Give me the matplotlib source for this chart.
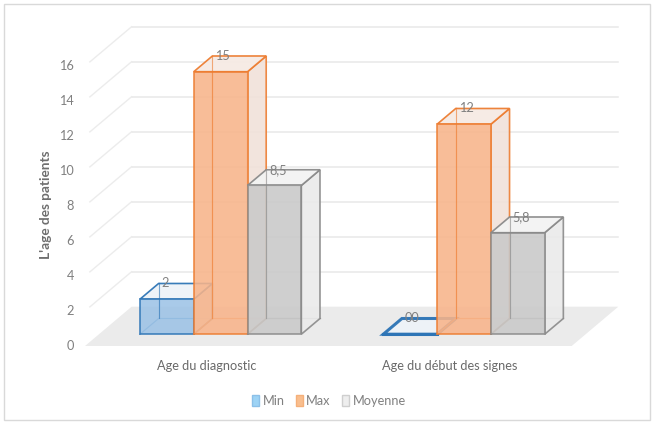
import matplotlib
matplotlib.use("Agg")
import matplotlib.pyplot as plt
from matplotlib.patches import Polygon, Rectangle, Patch

plt.rcParams['font.family'] = ['Lato', 'DejaVu Sans']

# ---------------- data ----------------
categories = ["Age du diagnostic", "Age du début des signes"]
series_names = ["Min", "Max", "Moyenne"]
values = {
    "Min": [2, 0],
    "Max": [15, 12],
    "Moyenne": [8.5, 5.8],
}
data_labels = {
    "Min": ["2", "00"],
    "Max": ["15", "12"],
    "Moyenne": ["8,5", "5,8"],
}
yticks = [0, 2, 4, 6, 8, 10, 12, 14, 16]
ytitle = "L'age des patients"

# ---------------- style / layout ----------------
front_col = {"Min": "#9DC3E6", "Max": "#F8B48A", "Moyenne": "#C9C9C9"}
edge_col = {"Min": "#2E75B6", "Max": "#ED7D31", "Moyenne": "#8A8A8A"}
side_col = {"Min": "#DCE8F3", "Max": "#F1E1DA", "Moyenne": "#EAEAEA"}
top_col = {"Min": "#EEF3F8", "Max": "#F6EAE4", "Moyenne": "#F3F3F3"}
legend_col = {"Min": "#9DD3F5", "Max": "#F9BE8E", "Moyenne": "#EEEEEE"}
legend_edge = {"Min": "#8CC0E8", "Max": "#F5B07A", "Moyenne": "#CFCFCF"}

W, H = 655, 423
PX_X = 243.35          # pixels per category unit
PX_Y = 17.5            # pixels per value unit
X0_PX, Y0_PX = 85, 346  # front-left floor corner (pixels)
DX = 46.6 / PX_X       # full depth offset (data units)
DY = 39.3 / PX_Y
BAR_W = 53.8 / PX_X
FRONT_D, BAR_D = 0.30, 0.40   # bar depth placement (fraction of depth)
TXT = "#808080"
FS = 9.2

fig = plt.figure(figsize=(W / 100, H / 100), dpi=100)
ax = fig.add_axes([0, 0, 1, 1])
ax.set_xlim(-0.5 - X0_PX / PX_X, -0.5 + (W - X0_PX) / PX_X)
ax.set_ylim(-(H - Y0_PX) / PX_Y, Y0_PX / PX_Y)
ax.axis("off")

ncat = len(categories)
xl, xr = -0.5, ncat - 0.5

# back wall and side gridlines
for v in yticks[1:]:
    ax.plot([xl + DX, xr + DX], [v + DY, v + DY], color="#E8E8E8", lw=1.1, zorder=1)
    ax.plot([xl + 0.02, xl + DX], [v + 0.02 * DY / DX, v + DY], color="#ECECEC", lw=1.0, zorder=1)

# floor
ax.add_patch(Polygon([(xl, 0), (xr, 0), (xr + DX, DY), (xl + DX, DY)],
                     closed=True, facecolor="#EBEBEB", edgecolor="none", zorder=2))

# bars
group_off = (1 - len(series_names) * BAR_W) / 2
dx, dy = BAR_D * DX, BAR_D * DY
z = 3
for i in range(ncat):
    for j, s in enumerate(series_names):
        v = values[s][i]
        x0 = i - 0.5 + group_off + j * BAR_W + FRONT_D * DX
        b = FRONT_D * DY
        x1 = x0 + BAR_W
        ec = edge_col[s]
        lw = 1.2 if v > 0 else 2.2
        # back edges (seen through)
        ax.plot([x0 + dx, x0 + dx, x1 + dx], [b + dy + v, b + dy, b + dy], color=ec, lw=0.9, alpha=0.8, zorder=z)
        ax.plot([x0, x0 + dx], [b, b + dy], color=ec, lw=0.9, alpha=0.8, zorder=z)
        # side face
        ax.add_patch(Polygon([(x1, b), (x1, b + v), (x1 + dx, b + v + dy), (x1 + dx, b + dy)],
                             closed=True, facecolor=side_col[s], edgecolor=ec, lw=lw,
                             alpha=0.9, zorder=z + 1))
        # top face
        ax.add_patch(Polygon([(x0, b + v), (x1, b + v), (x1 + dx, b + v + dy), (x0 + dx, b + v + dy)],
                             closed=True, facecolor=top_col[s], edgecolor=ec, lw=lw,
                             alpha=0.95, zorder=z + 1))
        # front face
        if v > 0:
            ax.bar(x0, v, width=BAR_W, bottom=b, align="edge", color=front_col[s],
                   edgecolor=ec, lw=lw, alpha=0.88, zorder=z + 2)
            ax.plot([x0 + dx, x0 + dx], [b + dy, b + dy + v], color=ec, lw=0.8, alpha=0.6, zorder=z + 2)
        else:
            ax.plot([x0, x1], [b, b], color=ec, lw=lw, zorder=z + 2)
        ax.text(x0 + dx + 3 / PX_X, b + v + dy, data_labels[s][i], ha="left", va="center",
                fontsize=FS, color=TXT, zorder=20)
        z += 3

# y tick labels
for t in yticks:
    ax.text(xl - 11 / PX_X, t, str(t), ha="right", va="center", fontsize=FS, color=TXT)

# y title
ax.text(xl - 39 / PX_X, (Y0_PX - 205) / PX_Y, ytitle, rotation=90, ha="center", va="center",
        fontsize=9.8, color="#6E6E6E", fontweight="bold")

# category labels
for i, c in enumerate(categories):
    ax.text(i, -20 / PX_Y, c, ha="center", va="center", fontsize=FS, color="#6A6A6A")

# legend
handles = [Patch(facecolor=legend_col[s], edgecolor=legend_edge[s], label=s) for s in series_names]
fig.legend(handles=handles, loc="center", bbox_to_anchor=(329 / W, 1 - 401 / H), ncol=3,
           frameon=False, handlelength=0.55, handleheight=1.0, handletextpad=0.25,
           columnspacing=0.9, fontsize=FS, labelcolor=TXT)

# chart frame
fig.add_artist(Rectangle((4 / W, 3 / H), (650 - 4) / W, (419 - 3) / H, transform=fig.transFigure,
                         fill=False, edgecolor="#D9D9D9", lw=1.0))

fig.savefig("out.png", dpi=100)
